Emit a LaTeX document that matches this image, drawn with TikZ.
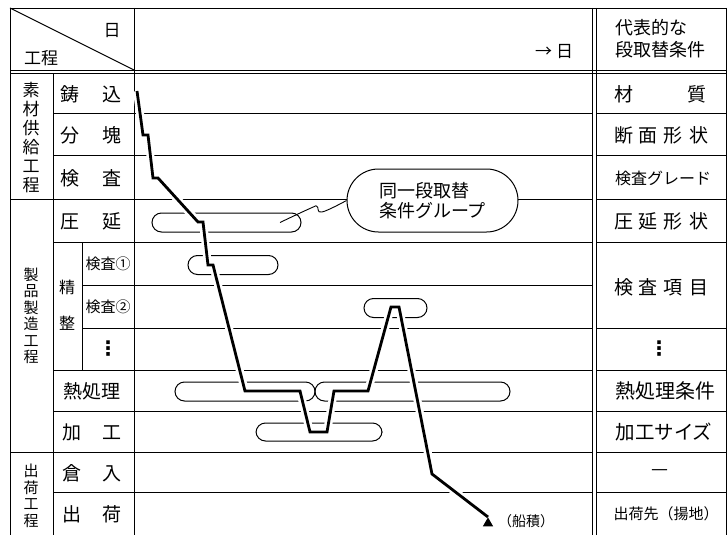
\documentclass[tikz,border=0pt]{standalone}
\usepackage{fontspec}
\setmainfont{Noto Sans CJK JP}
\newfontfamily\dvfont{DejaVu Sans}
\usetikzlibrary{shapes.geometric}
\begin{document}
\begin{tikzpicture}[x=1pt,y=-1pt,
  thin/.style={line width=0.9pt},
  grp/.style={draw, line width=1pt, rounded corners=9.5pt, inner sep=0pt, minimum height=19pt},
  lbl/.style={inner sep=0pt, font=\fontsize{19}{22}\selectfont},
  slbl/.style={inner sep=0pt, font=\fontsize{15}{18}\selectfont},
  vlbl/.style={inner sep=0pt, align=center},
  dots/.style={inner sep=0pt, font=\dvfont\bfseries\fontsize{20}{22}\selectfont},
  thick path/.style={line width=2.8pt, line join=miter, preaction={draw=white, line width=8pt}}
]
\useasboundingbox (0,0) rectangle (728,535);

% ---------- frame ----------
\draw[thin] (10,8) -- (726,8);
\draw[thin] (10,8) -- (10,535);
\draw[thin] (726,8) -- (726,535);
\draw[thin] (134,8) -- (134,535);
\draw[thin] (592,8) -- (592,535);
\draw[thin] (596,8) -- (596,535);
\draw[thin] (10,70) -- (726,70);
\draw[thin] (10,73.5) -- (726,73.5);
\draw[thin] (10,8) -- (134,70);
\draw[thin] (53,73.5) -- (53,535);
\draw[thin] (82,242) -- (82,370);

% ---------- row lines ----------
\foreach \yy in {113,155,242,370,411,492} \draw[thin] (53,\yy) -- (592,\yy);
\foreach \yy in {199,452} \draw[thin] (10,\yy) -- (592,\yy);
\foreach \yy in {285,328} \draw[thin] (82,\yy) -- (592,\yy);
\foreach \yy in {113,155,199,242,328,370,411,452,492} \draw[thin] (596,\yy) -- (726,\yy);

% ---------- header texts ----------
\node[lbl, font=\fontsize{17}{20}\selectfont] (hday) at (112,31) {日};
\node[lbl, font=\fontsize{17}{20}\selectfont] (hproc) at (41,58) {工程};
\node[lbl, font=\fontsize{17}{20}\selectfont] (harrow) at (554,52) {→\hspace{4pt}日};
\node[lbl, font=\fontsize{18}{22}\selectfont, align=left, anchor=west] (hright) at (615,39) {代表的な\\段取替条件};

% ---------- left group labels ----------
\node[vlbl, font=\fontsize{17}{19}\selectfont] (gA) at (31,137.5) {素\\材\\供\\給\\工\\程};
\node[vlbl, font=\fontsize{15}{16.5}\selectfont] (gB) at (31,316) {製\\品\\製\\造\\工\\程};
\node[vlbl, font=\fontsize{15}{16.5}\selectfont] (gC) at (31,496) {出\\荷\\工\\程};
\node[lbl, font=\fontsize{16}{18}\selectfont] (sei) at (67,287) {精};
\node[lbl, font=\fontsize{16}{18}\selectfont] (sei2) at (67,323) {整};

% ---------- process labels ----------
\node[lbl] (p1) at (91,94) {鋳\hspace{24pt}込};
\node[lbl] (p2) at (91,135) {分\hspace{24pt}塊};
\node[lbl] (p3) at (91,178) {検\hspace{24pt}査};
\node[lbl] (p4) at (91,221) {圧\hspace{24pt}延};
\node[slbl] (p5) at (108,263.5) {検査①};
\node[slbl] (p6) at (108,306.5) {検査②};
\node[dots] (p7) at (108,349) {⋮};
\node[lbl] (p8) at (92,391) {熱処理};
\node[lbl] (p9) at (92,432) {加\hspace{22pt}工};
\node[lbl] (p10) at (92,473) {倉\hspace{22pt}入};
\node[lbl] (p11) at (92,514) {出\hspace{22pt}荷};

% ---------- condition labels ----------
\node[lbl] (c1) at (660,94) {材\hspace{54pt}質};
\node[lbl] (c2) at (661,135) {断\hspace{6pt}面\hspace{6pt}形\hspace{6pt}状};
\node[lbl, font=\fontsize{16}{18}\selectfont] (c3) at (663,178) {検査グレード};
\node[lbl] (c4) at (661,221) {圧\hspace{6pt}延\hspace{6pt}形\hspace{6pt}状};
\node[lbl] (c5) at (661,287) {検\hspace{6pt}査\hspace{6pt}項\hspace{6pt}目};
\node[dots] (c6) at (659,349) {⋮};
\node[lbl, font=\fontsize{20}{22}\selectfont] (c7) at (665,391) {熱処理条件};
\node[lbl, font=\fontsize{19.5}{22}\selectfont] (c8) at (664,432) {加工サイズ};
\node[lbl] (c9) at (660,473) {—};
\node[lbl, font=\fontsize{15}{18}\selectfont] (c10) at (666,514) {出荷先（揚地）};

% ---------- setup groups ----------
\node[grp, minimum width=149pt] (g1) at (226.5,222.5) {};
\node[grp, minimum width=90pt]  (g2) at (233,265) {};
\node[grp, minimum width=63pt]  (g3) at (395.5,308) {};
\node[grp, minimum width=140pt] (g4) at (245,391.5) {};
\node[grp, minimum width=195pt] (g5) at (412.5,391.5) {};
\node[grp, minimum width=126pt, minimum height=18pt] (g6) at (319,432) {};

% ---------- callout ----------
\node[draw, line width=1pt, fill=white, rounded corners=31.5pt, minimum width=171pt, minimum height=63pt,
      align=left, font=\fontsize{18}{20.5}\selectfont] (callout) at (432.5,200.5) {同一段取替\\条件グループ};
\coordinate (sq) at (280,222.5);
\draw[thin] plot[smooth, tension=0.7] coordinates {(callout.west) (322,212) (317,206.5) (311,208) (sq)};

% ---------- production path ----------
\coordinate (start) at (137,91);
\coordinate (fin) at (488,517);
\draw[thick path] (start) -- (143,135) -- (148,135) -- (153,178) -- (158,178) -- (198,222) -- (203,222)
  -- (208,265) -- (213,265) -- (245,391) -- (300,391) -- (310,432) -- (327,432) -- (334,391)
  -- (368,391) -- (391,307) -- (399,307) -- (432,474) -- (fin);
\node[regular polygon, regular polygon sides=3, fill=black, inner sep=0pt, minimum size=12pt, anchor=corner 1] (tri) at (fin) {};
\node[slbl, font=\fontsize{14}{16}\selectfont, anchor=west] (ship) at (498,521) {（船積）};
\end{tikzpicture}
\end{document}
